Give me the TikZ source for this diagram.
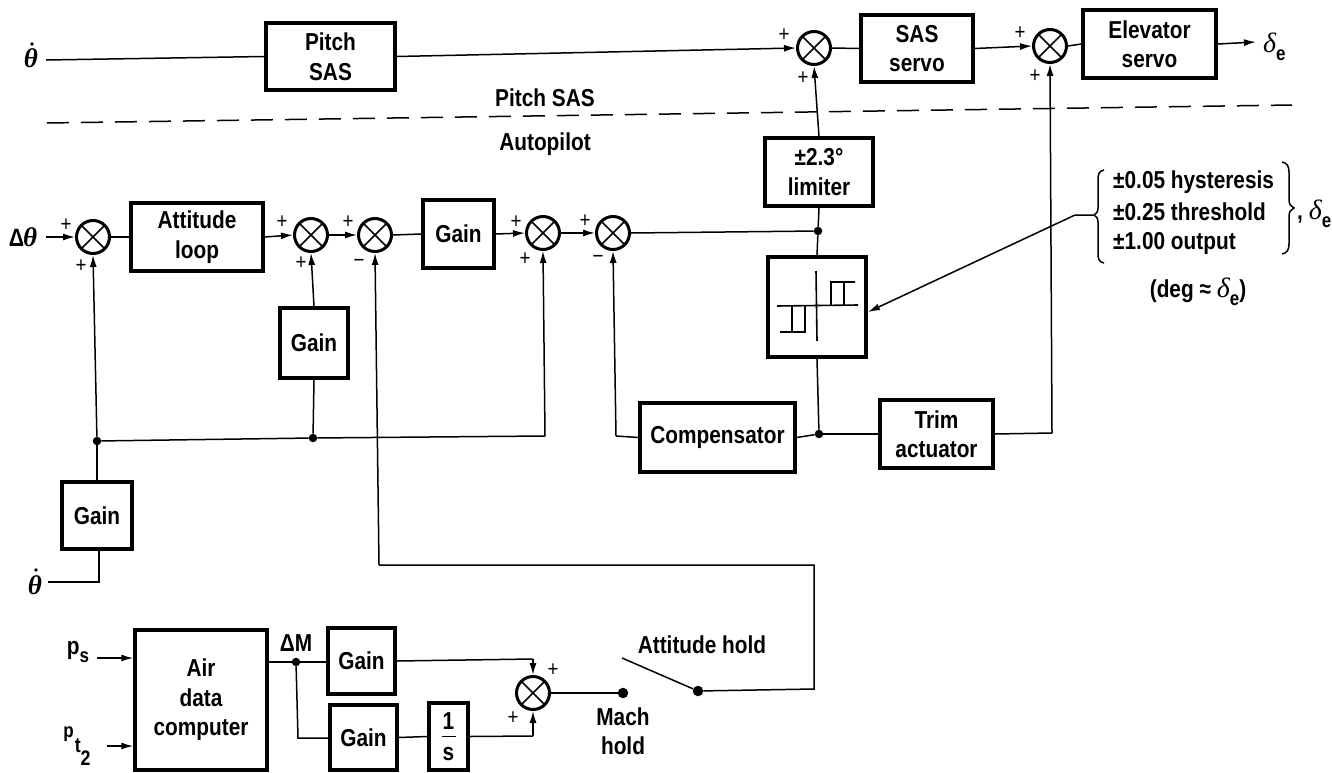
\documentclass[tikz,border=0pt]{standalone}
\usepackage{fontspec}
\setmainfont[FakeStretch=0.85]{Liberation Sans}
\newfontfamily\grk{Liberation Serif}
\usetikzlibrary{arrows.meta,calc}
\newcommand{\lblfont}{\fontsize{24.5bp}{29.5bp}\selectfont\bfseries}
\newcommand{\sube}{\raisebox{-0.32em}{\fontsize{20bp}{20bp}\selectfont\bfseries e}}
\newcommand{\dlt}{{\grk\itshape\mdseries\fontsize{28bp}{28bp}\selectfont δ}}
\newcommand{\thd}{{\grk\itshape\bfseries\fontsize{27bp}{27bp}\selectfont θ}}
\newcommand{\bx}[6]{\node[blockbox,minimum width={(#4-#2)*1bp},minimum height={(#5-#3)*1bp}] (#1) at ({(#2+#4)/2},{(#3+#5)/2}) {#6};}
\tikzset{
  x=1bp,y=-1bp,
  blockbox/.style={draw,line width=3.4bp,rectangle,inner sep=0pt,align=center,font=\lblfont},
  summer/.style={circle,draw,line width=3bp,minimum size=33bp,inner sep=0pt,
    path picture={\draw[line width=1.6bp] (path picture bounding box.north west)--(path picture bounding box.south east)
      (path picture bounding box.north east)--(path picture bounding box.south west);}},
  wire/.style={line width=1.5bp},
  flow/.style={wire,-{Latex[length=12bp,width=7bp]}},
  dotnode/.style={circle,fill=black,inner sep=0pt,minimum size=8.5bp},
  bigdot/.style={circle,fill=black,inner sep=0pt,minimum size=10.5bp},
  accentdot/.style={circle,fill=black,inner sep=0pt,minimum size=3.6bp},
  lbl/.style={inner sep=0pt,align=center,font=\lblfont},
  sign/.style={inner sep=0pt,font=\fontsize{22bp}{22bp}\selectfont},
}
\begin{document}
\begin{tikzpicture}
\useasboundingbox (0,0) rectangle (1332,772);
% blocks
\bx{psas}{266}{23}{395}{90}{Pitch\\SAS}
\bx{sasservo}{861}{15}{973}{82}{SAS\\servo}
\bx{elev}{1083}{10}{1216}{78}{Elevator\\servo}
\bx{att}{131}{203}{263}{271}{Attitude\\loop}
\bx{gainm}{423}{200}{494}{268}{Gain}
\bx{gainb}{280}{308}{348}{378}{Gain}
\bx{lim}{765}{138}{873}{206}{±2.3°\\limiter}
\bx{hyst}{768}{257}{866}{357}{}
\bx{comp}{640}{403}{795}{472}{Compensator}
\bx{trim}{880}{400}{993}{468}{Trim\\actuator}
\bx{gaint}{62}{482}{132}{549}{Gain}
\bx{adc}{135}{630}{267}{770}{Air\\data\\computer}
\bx{gainu}{328}{628}{395}{694}{Gain}
\bx{gainl}{330}{705}{397}{770}{Gain}
\bx{inte}{429}{703}{468}{770}{1\\[2bp]s}
% summers
\node[summer] (s1) at (814,48) {};
\node[summer] (s2) at (1050,46) {};
\node[summer] (a) at (93,237) {};
\node[summer] (b) at (311,235) {};
\node[summer] (c) at (375,235) {};
\node[summer] (d) at (543,233) {};
\node[summer] (e) at (613,233) {};
\node[summer] (s3) at (533,693) {};
% signals
\node[lbl] (th1) at (31,58) {\thd};
\node[accentdot] (th1dot) at (32,44) {};
\node[lbl] (th2) at (35,585) {\thd};
\node[accentdot] (th2dot) at (36,570) {};
\node[lbl] (dth) at (23,237) {{\fontsize{25bp}{25bp}\selectfont Δ}\kern-1bp{\grk\itshape\fontsize{27bp}{27bp}\selectfont θ}};
\node[lbl,anchor=west] (de1) at (1263,47) {\dlt\sube};
\node[lbl] (ps) at (78,652) {p\raisebox{-0.35em}{\fontsize{20bp}{20bp}\selectfont s}};
\node[lbl] (pt) at (77,746) {\raisebox{0.6em}{\fontsize{20bp}{20bp}\selectfont p}\kern1bp\fontsize{21bp}{21bp}\selectfont t\raisebox{-0.62em}{2}};
\node[lbl] (dm) at (296,643) {ΔM};
\node[lbl] (ptxt) at (545,98) {Pitch SAS};
\node[lbl] (atxt) at (545,144) {Autopilot};
\node[lbl] (ahold) at (702,645) {Attitude hold};
\node[lbl] (mhold) at (623,731) {Mach\\hold};
\node[lbl,anchor=west] (h1) at (1113,182) {±0.05 hysteresis};
\node[lbl,anchor=west] (h2) at (1113,212) {±0.25 threshold};
\node[lbl,anchor=west] (h3) at (1113,243) {±1.00 output};
\node[lbl,anchor=west] (de2) at (1297,214) {, \dlt\sube};
\node[lbl] (deg) at (1198,292) {(deg ≈ \dlt\sube)};
% signs
\foreach \nm/\px/\py/\tx in {p1/66/225/+,p2/81/266/+,p3/282/222/+,p4/301/263/+,p5/348/222/+,p6/359/263/−,p7/516/222/+,p8/525/259/+,p9/585/221/+,p10/598/259/−,p11/784/35/+,p12/803/78/+,p13/1020/33/+,p14/1035/76/+,p15/553/670/+,p16/513/718/+}
  \node[sign] (\nm) at (\px,\py) {\tx};
% junctions and corners
\node[dotnode] (j1) at (97,441) {};
\node[dotnode] (j2) at (313,438) {};
\node[dotnode] (j3) at (818,231) {};
\node[dotnode] (j4) at (819,434) {};
\node[dotnode] (j5) at (296,662) {};
\node[bigdot] (mach) at (623,693) {};
\node[bigdot] (attd) at (698,691) {};
\coordinate (busend) at (545,436);
\coordinate (compup) at (616,436);
\coordinate (trimc) at (1052,433);
\coordinate (thbend) at (99,582);
\coordinate (thstart) at (48,582);
\coordinate (th1s) at (46,60);
\coordinate (csw1) at (379,565);
\coordinate (csw2) at (814,565);
\coordinate (csw3) at (814,689);
\coordinate (swarm) at (622,658);
\coordinate (ulb) at (533,659);
\coordinate (llb) at (533,736);
\coordinate (lowb) at (298,738);
\coordinate (dash1) at (47,123);
\coordinate (dash2) at (1292,105);
% top row
\draw[wire] (th1s) -- (psas.west);
\draw[flow] (psas.east) -- (s1.west);
\draw[wire] (s1.east) -- (sasservo.west);
\draw[flow] (sasservo.east) -- (s2.west);
\draw[wire] (s2.east) -- (elev.west);
\coordinate (deltatip) at (1256,42);
\draw[flow] (elev.east) -- (deltatip);
\draw[wire,dash pattern=on 22bp off 12bp] (dash1) -- (dash2);
% autopilot row
\coordinate (dthe) at (46,237);
\draw[flow] (dthe) -- (a.west);
\draw[wire] (a.east) -- (att.west);
\draw[flow] (att.east) -- (b.west);
\draw[flow] (b.east) -- (c.west);
\draw[wire] (c.east) -- (gainm.west);
\draw[flow] (gainm.east) -- (d.west);
\draw[flow] (d.east) -- (e.west);
\draw[wire] (e.east) -- (j3);
\draw[flow] (lim.north) -- (s1.south);
\draw[wire] (j3) -- (lim.south);
\draw[wire] (j3) -- (hyst.north);
\draw[wire] (hyst.south) -- (j4);
\draw[wire] (j4) -- (comp.east);
\draw[wire] (j4) -- (trim.west);
\draw[wire] (trim.east) -- (trimc);
\draw[flow] (trimc) -- (s2.south);
\draw[wire] (comp.west) -- (compup);
\draw[flow] (compup) -- (e.south);
\draw[wire] (j1) -- (j2) -- (busend);
\draw[flow] (busend) -- (d.south);
\draw[wire] (gainb.south) -- (j2);
\draw[flow] (gainb.north) -- (b.south);
\draw[wire] (gaint.north) -- (j1);
\draw[flow] (j1) -- (a.south);
\draw[wire] (thstart) -- (thbend) -- (gaint.south -| thbend);
% Mach / attitude path
\draw[wire] (attd) -- (csw3) -- (csw2) -- (csw1);
\draw[flow] (csw1) -- (c.south);
\draw[wire] (swarm) -- (attd);
\draw[wire] (s3.east) -- (mach);
\coordinate (ps1) at (97,658);
\coordinate (pt1) at (107,746);
\draw[flow] (ps1) -- (ps1 -| adc.west);
\draw[flow] (pt1) -- (pt1 -| adc.west);
\draw[wire] (j5 -| adc.east) -- (j5) -- (j5 -| gainu.west);
\draw[wire] (j5) -- (lowb) -- (lowb -| gainl.west);
\draw[wire] (gainl.east) -- (inte.west);
\draw[wire] (gainu.east) -- (ulb);
\draw[flow] (ulb) -- (s3.north);
\draw[wire] (inte.east) -- (llb);
\draw[flow] (llb) -- (s3.south);
% fraction bar
\draw[wire] ($(inte.center)+(-7,0)$) -- ($(inte.center)+(7,0)$);
% hysteresis glyph
\draw[line width=1.6bp] (816,271) -- (817,341) (777,306) -- (858,305)
  (831,305) -- (831,282) -- (855,282) (844,282) -- (844,305)
  (792,306) -- (792,332) (780,332) -- (805,332) -- (805,306);
% leader
\coordinate (ldr1) at (1075,215);
\coordinate (ldr0) at (1093,215);
\draw[wire,-{Latex[length=12bp,width=7bp]}] (ldr0) -- (ldr1) -- (868,312);
% braces
\draw[line width=1.5bp] (1104,170) .. controls (1099,171) and (1098,174) .. (1098,180) -- (1098,208) .. controls (1098,212) and (1096,214) .. (1094,215) .. controls (1096,216) and (1098,218) .. (1098,222) -- (1098,253) .. controls (1098,259) and (1099,262) .. (1104,263);
\draw[line width=1.5bp] (1282,162) .. controls (1287,163) and (1289,166) .. (1289,172) -- (1289,200) .. controls (1289,204) and (1291,207) .. (1294,208) .. controls (1291,209) and (1289,212) .. (1289,216) -- (1289,244) .. controls (1289,250) and (1287,253) .. (1282,254);
\end{tikzpicture}
\end{document}
